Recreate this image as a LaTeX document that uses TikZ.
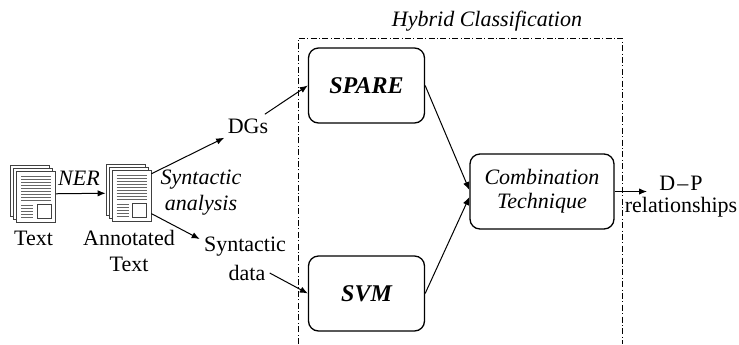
\documentclass[tikz,border=0pt]{standalone}
\usepackage{fontspec}
\setmainfont{Liberation Serif}
\usepackage{tikz}
\usetikzlibrary{arrows.meta}
\usetikzlibrary{calc}

\begin{document}
\begin{tikzpicture}[x=0.5pt, y=-0.5pt,
        label_style/.style={inner sep=2pt, align=center, font=\fontsize{11}{13}\selectfont},
        italic_style/.style={label_style, font=\fontsize{11}{13}\selectfont\itshape},
        box_style/.style={draw=black, line width=0.65pt, rounded corners=5pt, fill=white, minimum width=58pt, minimum height=37.5pt, align=center},
        bold_box_style/.style={box_style, font=\fontsize{12}{14}\selectfont\bfseries\itshape},
        icon_style/.style={inner sep=0pt, minimum width=22.5pt, minimum height=28.5pt},
        edge_style/.style={draw=black, line width=0.5pt, -{Latex[length=4pt, width=3.2pt]}},
        frame_style/.style={draw=black, line width=0.5pt, dash pattern=on 3pt off 1.2pt on 0.5pt off 1.2pt},
        page_style/.style={draw=black!75, fill=white, line width=0.45pt},
        doc_line_style/.style={draw=black!60, line width=0.4pt},
        doc_icon/.pic={
            \foreach \off in {6,3,0}
                \draw [page_style] (-16.5-\off,-22.5-\off) rectangle (22.5-\off,28.5-\off);
            \foreach \yy in {-18,-15,...,6}
                \draw [doc_line_style] (-12,\yy) -- (18,\yy);
            \foreach \yy in {11,14,...,23}
                \draw [doc_line_style] (-12,\yy) -- (0,\yy);
            \draw [page_style] (4,10) rectangle (18,24);
        }]

        \useasboundingbox (0,0) rectangle (739,344);

        \node [italic_style] (hybrid) at (487,21) {Hybrid Classification};

        \draw [frame_style] (298,344) -- (298,38) -- (622,38) -- (622,344);

        \node [icon_style] (text_doc) at (33,194) {};
        \pic at (text_doc) {doc_icon};
        \node [label_style] (text_label) at (33.5,238) {Text};

        \node [icon_style] (annot_doc) at (128.5,193) {};
        \pic at (annot_doc) {doc_icon};
        \node [label_style] (annot_label) at (129,250.5) {Annotated\\Text};

        \node [italic_style] (ner) at (79,178) {NER};

        \node [italic_style] (analysis) at (201,193) {Syntactic\\analysis};

        \node [label_style] (dgs) at (248,126) {DGs};

        \node [label_style] (syn) at (245,247) {Syntactic};

        \node [label_style] (data) at (247,273) {data};

        \node [bold_box_style] (spare) at (366.5,85.5) {SPARE};

        \node [bold_box_style] (svm) at (366.5,293.5) {SVM};

        \node [box_style, font=\fontsize{11}{12}\selectfont\itshape, minimum width=72pt] (comb) at (542,191.5) {Combination\\Technique};

        \node [label_style, inner xsep=6pt] (dp) at (681,183) {D\kern1pt--\kern1pt P};

        \node [label_style] (rel) at (681,207) {relationships};

        \draw [edge_style] (text_doc) -- (annot_doc);

        \draw [edge_style] (annot_doc.40) -- (dgs);

        \draw [edge_style] (annot_doc.-42) -- (syn.170);

        \draw [edge_style] (dgs.35) -- (spare.west);

        \draw [edge_style] (data.east) -- (svm.west);

        \draw [edge_style] (spare.east) -- ([yshift=0.75pt]comb.west);

        \draw [edge_style] (svm.east) -- ([yshift=-2.75pt]comb.west);

        \draw [edge_style] (comb.east) -- (comb.east -| dp.west);

\end{tikzpicture}
\end{document}
